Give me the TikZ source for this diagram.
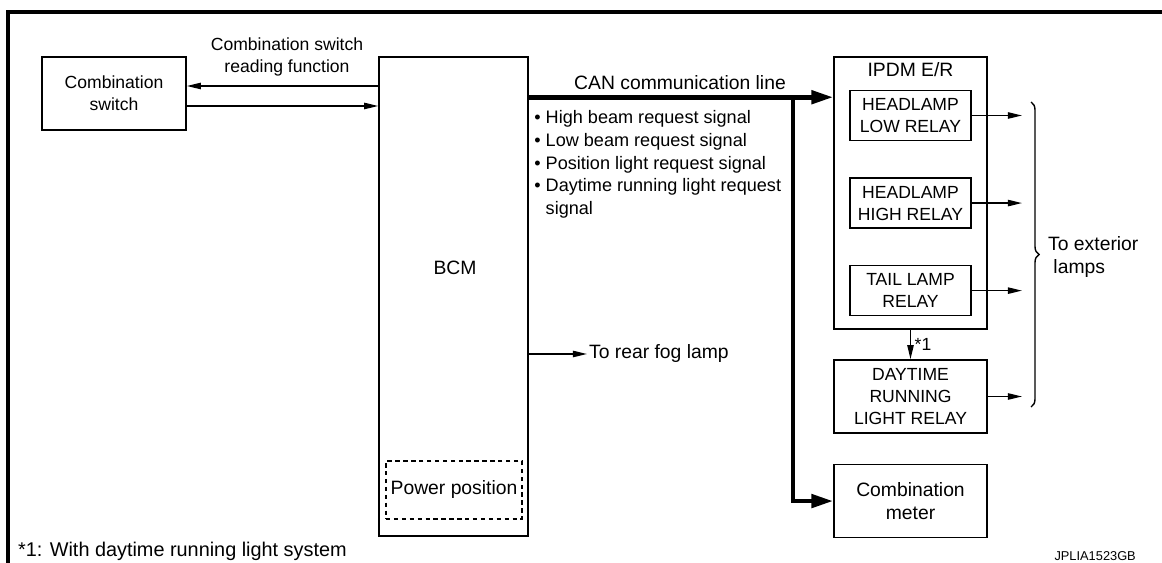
\documentclass[tikz,border=0pt]{standalone}
\usepackage{fontspec}
\setmainfont{Liberation Sans}
\usetikzlibrary{arrows.meta,positioning,decorations.pathreplacing}
\tikzset{font={\fontsize{10pt}{12.5pt}\selectfont}}
\begin{document}
\begin{tikzpicture}[x=0.02cm,y=-0.02cm,node distance=0.72cm,
    >={Triangle[length=8pt,width=3.6pt]},
    box/.style={draw,line width=0.9pt,inner sep=0pt,align=center},
    relay box/.style={box,minimum width=2.42cm,minimum height=1cm},
    unit box/.style={box,minimum width=3.06cm,minimum height=1.46cm},
    big/.style={font={\fontsize{11pt}{13pt}\selectfont}},
    wire/.style={->,line width=0.8pt},
    bus/.style={-{Triangle[length=12.5pt,width=7.5pt]},line width=2.6pt}]
  \useasboundingbox (0,0) rectangle (1162,563);
  \draw[line width=1.8pt] (1162,12) -- (8,12) -- (8,563);

  % left side
  \node[box,minimum width=2.88cm,minimum height=1.46cm] (sw) at (114,93.5) {Combination\\switch};
  \node[box,minimum width=2.98cm,minimum height=9.58cm] (bcm) at (453.5,296.5) {};
  \node[big] (bcm text) at (455,268) {BCM};
  \node[box,dashed,dash pattern=on 2.5pt off 2pt,line width=0.6pt,minimum width=2.72cm,
        minimum height=1.16cm,big] (pwr) at (454,490) {Power position};
  \node[align=center] (read) at (287,57) {Combination switch\\reading function};

  % IPDM E/R and relays
  \node[box,minimum width=3.06cm,minimum height=5.44cm] (ipdm) at (910.5,193) {};
  \node[big] (ipdm text) at (910.5,70) {IPDM E/R};
  \node[relay box] (low) at (910.5,115.5) {HEADLAMP\\LOW RELAY};
  \node[relay box,below=of low] (high) {HEADLAMP\\HIGH RELAY};
  \node[relay box,below=of high] (tail) {TAIL LAMP\\RELAY};
  \node[unit box] (drl) at (910.5,396.5) {DAYTIME\\RUNNING\\LIGHT RELAY};
  \node[unit box,below=0.6cm of drl,big] (meter) {Combination\\meter};

  % CAN line
  \node[big] (can) at (680,83) {CAN communication line};
  \node[anchor=north west,align=left,inner sep=0pt,
        font={\fontsize{10.3pt}{13pt}\selectfont}] (sig) at (534,110)
    {\textbullet\ High beam request signal\\
     \textbullet\ Low beam request signal\\
     \textbullet\ Position light request signal\\
     \textbullet\ Daytime running light request\\
     \phantom{\textbullet\ }signal};
  \coordinate (can in) at ([yshift=-0.82cm]ipdm.north west);
  \coordinate (tap) at (793,98);
  \draw[bus] (bcm.east |- can in) -- (can in);
  \draw[bus] (tap) |- (meter.west);

  % switch signals
  \coordinate (sw in) at ([yshift=0.15cm]sw.east);
  \coordinate (sw out) at ([yshift=-0.25cm]sw.east);
  \draw[wire] (bcm.west |- sw in) -- (sw in);
  \draw[wire] (sw out) -- (sw out -| bcm.west);

  \node[big,anchor=west,inner sep=1pt] (fog) at (587,354) {To rear fog lamp};
  \draw[wire] (bcm.east |- fog.west) -- (fog.west);

  \draw[wire] (ipdm.south) -- (drl.north) node[midway,right,inner sep=2pt] {*1};

  % outputs
  \coordinate (lamp end) at (1022,257);
  \foreach \r in {low,high,tail,drl}
    \draw[wire] (\r.east) -- (\r.east -| lamp end);
  \coordinate (brace top) at (1031,102);
  \coordinate (brace bot) at (1031,407);
  \draw[line width=0.8pt,decorate,decoration={brace,amplitude=0.16cm}] (brace top) -- (brace bot);
  \node[big,anchor=west,align=left] (ext) at (1042,257) {To exterior\\\hspace*{3pt}lamps};

  \node[anchor=west,font={\fontsize{11.3pt}{13pt}\selectfont}] (note) at (12,551)
    {*1: With daytime running light system};
  \node[anchor=east,font={\fontsize{7.3pt}{9pt}\selectfont}] (code) at (1142,556) {JPLIA1523GB};
\end{tikzpicture}
\end{document}
